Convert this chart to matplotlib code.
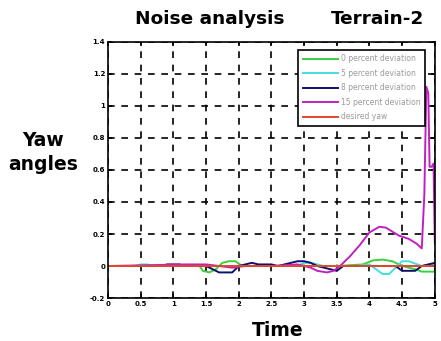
import matplotlib
matplotlib.use("Agg")
import matplotlib.pyplot as plt

# ---- data ----
labels = ["0 percent deviation", "5 percent deviation", "8 percent deviation",
          "15 percent deviation", "desired yaw"]

t_green = [0, 1.4, 1.45, 1.55, 1.65, 1.75, 1.85, 1.95, 2.05, 2.4, 3.0, 3.5, 3.9, 4.05, 4.2, 4.35, 4.5, 4.7, 4.8, 5.0]
y_green = [0, 0, -0.03, -0.04, -0.02, 0.02, 0.03, 0.03, 0.0, 0, 0, 0, 0.01, 0.035, 0.04, 0.03, 0.0, -0.02, -0.035, -0.035]

t_cyan = [0, 0.4, 0.5, 0.6, 0.7, 1.0, 2.5, 2.9, 3.0, 3.1, 3.3, 3.8, 4.0, 4.1, 4.2, 4.3, 4.4, 4.5, 4.6, 4.8, 5.0]
y_cyan = [0, 0, 0.01, 0.01, 0, 0, 0, 0, 0.02, 0.02, 0, 0, 0.01, -0.02, -0.05, -0.05, -0.01, 0.03, 0.03, 0, 0.01]

t_navy = [0, 0.85, 0.9, 1.1, 1.15, 1.5, 1.6, 1.7, 1.9, 1.95, 2.0, 2.2, 2.3, 2.5, 2.6, 2.8, 2.9, 3.0, 3.1,
          3.2, 3.4, 3.5, 3.6, 4.0, 4.4, 4.5, 4.7, 4.8, 5.0]
y_navy = [0, 0, 0.01, 0.01, 0, 0, -0.02, -0.04, -0.04, -0.02, 0, 0.02, 0.01, 0.01, 0, 0.02, 0.03, 0.03, 0.02,
          0, -0.02, -0.03, 0, 0, 0, -0.03, -0.03, 0, 0.02]

t_mag = [0, 1.2, 1.5, 1.9, 2.1, 2.5, 2.9, 3.0, 3.1, 3.2, 3.35, 3.45, 3.55, 3.7, 3.85, 4.0, 4.15, 4.25,
         4.45, 4.6, 4.72, 4.8, 4.84, 4.87, 4.9, 4.92, 4.95, 4.98, 5.0]
y_mag = [0, 0.01, 0.01, -0.01, 0, 0, 0.01, 0, -0.01, -0.03, -0.04, -0.03, 0, 0.06, 0.13, 0.21, 0.245, 0.24,
         0.19, 0.17, 0.14, 0.11, 0.45, 1.12, 1.08, 0.62, 0.62, 0.64, 0.15]

t_des = [0, 5]
y_des = [0, 0]

xticks = [0, 0.5, 1, 1.5, 2, 2.5, 3, 3.5, 4, 4.5, 5]
xticklabels = ["0", "0.5", "1", "1.5", "2", "2.5", "3", "3.5", "4", "4.5", "5"]
yticks = [-0.2, 0, 0.2, 0.4, 0.6, 0.8, 1, 1.2, 1.4]
yticklabels = ["-0.2", "0", "0.2", "0.4", "0.6", "0.8", "1", "1.2", "1.4"]

colors = ["#3ccf3c", "#3fe0e0", "#10106e", "#c020c0", "#e04a2a"]

fig = plt.figure(figsize=(4.41, 3.41), dpi=100)
ax = fig.add_axes([0.245, 0.126, 0.741, 0.751])

series = [(t_green, y_green), (t_cyan, y_cyan), (t_navy, y_navy), (t_mag, y_mag), (t_des, y_des)]
for (tx, ty), c, lab in zip(series, colors, labels):
    ax.plot(tx, ty, color=c, lw=1.4, label=lab)

ax.set_xlim(0, 5)
ax.set_ylim(-0.2, 1.4)
ax.set_xticks(xticks)
ax.set_xticklabels(xticklabels)
ax.set_yticks(yticks)
ax.set_yticklabels(yticklabels)
ax.tick_params(direction="in", top=True, right=True, length=3, width=1.2,
               labelsize=5, pad=2)
for lab in ax.get_xticklabels() + ax.get_yticklabels():
    lab.set_fontweight("bold")
for s in ax.spines.values():
    s.set_linewidth(1.2)
ax.grid(True, color="black", linestyle=(0, (4, 4)), linewidth=1.2)

leg = ax.legend(loc="upper right", bbox_to_anchor=(0.982, 0.985), fontsize=5.5,
                handlelength=4.6, labelspacing=0.72, frameon=True, fancybox=False,
                borderpad=0.6, handletextpad=0.4, framealpha=1)
leg.get_frame().set_edgecolor("black")
leg.get_frame().set_linewidth(1.2)
for txt in leg.get_texts():
    txt.set_color("#9a9a9a")

font = "DejaVu Sans"
fig.text(0.476, 0.943, "Noise analysis", ha="center", va="center",
         fontsize=13.3, fontweight="bold", family=font)
fig.text(0.855, 0.943, "Terrain-2", ha="center", va="center",
         fontsize=13.3, fontweight="bold", family=font)
fig.text(0.098, 0.553, "Yaw\nangles", ha="center", va="center", fontsize=13.5,
         fontweight="bold", family=font, linespacing=1.3)
fig.text(0.63, 0.032, "Time", ha="center", va="center", fontsize=13.5,
         fontweight="bold", family=font)

fig.savefig("out.png", dpi=100)
